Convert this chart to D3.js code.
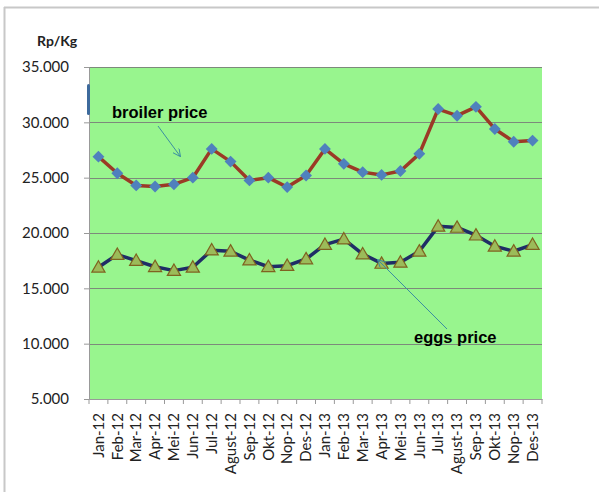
<!DOCTYPE html>
<html>
<head>
<meta charset="utf-8">
<script src="https://cdn.jsdelivr.net/npm/d3@7"></script>
<style>
  body { margin: 0; background: #fff; }
  svg { display: block; }
</style>
</head>
<body>
<script>
var months = ['Jan-12','Feb-12','Mar-12','Apr-12','Mei-12','Jun-12','Jul-12','Agust-12','Sep-12','Okt-12','Nop-12','Des-12',
              'Jan-13','Feb-13','Mar-13','Apr-13','Mei-13','Jun-13','Jul-13','Agust-13','Sep-13','Okt-13','Nop-13','Des-13'];
var broiler = [26900, 25400, 24300, 24200, 24400, 25000, 27600, 26450, 24750, 25000, 24150, 25200,
               27600, 26250, 25500, 25250, 25600, 27150, 31200, 30600, 31400, 29400, 28250, 28350];
var eggs = [16900, 18050, 17500, 16950, 16600, 16900, 18450, 18350, 17550, 16950, 17050, 17650,
            18950, 19450, 18100, 17250, 17350, 18350, 20600, 20500, 19800, 18800, 18350, 18950];
var yTicks = [5000, 10000, 15000, 20000, 25000, 30000, 35000];

var width = 599, height = 492;
var margin = {left: 89, top: 67, right: 57, bottom: 93};
var labelFont = 'Lato, "Open Sans", sans-serif';
var noteFont = '"Liberation Sans", Arial, sans-serif';

var svg = d3.select('body').append('svg')
  .attr('width', width)
  .attr('height', height);

// outer frame, only top and left show
svg.append('line').attr('x1', 4).attr('x2', width).attr('y1', 7.5).attr('y2', 7.5)
  .style('stroke', '#c8c8c8').style('stroke-width', 2);
svg.append('line').attr('x1', 4.5).attr('x2', 4.5).attr('y1', 7).attr('y2', height)
  .style('stroke', '#c8c8c8').style('stroke-width', 2);

var x = d3.scaleBand()
  .domain(months)
  .range([margin.left, width - margin.right]);

var y = d3.scaleLinear()
  .domain([5000, 35000])
  .range([height - margin.bottom, margin.top]);

// plot background
svg.append('rect')
  .attr('x', margin.left)
  .attr('y', margin.top)
  .attr('width', width - margin.left - margin.right)
  .attr('height', height - margin.top - margin.bottom)
  .style('fill', '#98f58e');

// gridlines
svg.append('g').selectAll('line')
  .data(yTicks.slice(1))
  .enter().append('line')
  .attr('x1', margin.left)
  .attr('x2', width - margin.right)
  .attr('y1', function(d){ return Math.round(y(d)) + 0.5; })
  .attr('y2', function(d){ return Math.round(y(d)) + 0.5; })
  .style('stroke', '#7d8a7b')
  .style('stroke-width', 1);

// y axis
var yAxis = svg.append('g')
  .attr('transform', 'translate(' + margin.left + ',0)')
  .call(d3.axisLeft(y).tickValues(yTicks).tickSize(5).tickPadding(15)
    .tickFormat(function(d){ return d3.format(',')(d).replace(/,/g, '.'); }));
yAxis.select('.domain').style('stroke', '#999');
yAxis.selectAll('.tick line').style('stroke', '#999');
yAxis.selectAll('text')
  .style('font-family', labelFont)
  .style('font-size', '15px')
  .style('fill', '#222');

// x axis
var xAxis = svg.append('g')
  .attr('transform', 'translate(0,' + (height - margin.bottom) + ')')
  .call(d3.axisBottom(x).tickSize(0));
xAxis.select('.domain').style('stroke', '#999');
xAxis.selectAll('text')
  .attr('transform', 'rotate(-90)')
  .attr('x', -14)
  .attr('y', 0)
  .attr('dy', '0.35em')
  .style('text-anchor', 'end')
  .style('font-family', labelFont)
  .style('font-size', '15px')
  .style('fill', '#222');

// ticks between categories
svg.append('g').selectAll('line')
  .data(d3.range(months.length + 1))
  .enter().append('line')
  .attr('x1', function(i){ return margin.left + i * x.step(); })
  .attr('x2', function(i){ return margin.left + i * x.step(); })
  .attr('y1', height - margin.bottom)
  .attr('y2', height - margin.bottom + 5)
  .style('stroke', '#999');

// small blue mark at left of plot
svg.append('rect')
  .attr('x', margin.left - 2).attr('y', 84)
  .attr('width', 3).attr('height', 31)
  .attr('rx', 1.5)
  .style('fill', '#3d6a9c');

var cx = function(d, i){ return x(months[i]) + x.bandwidth() / 2; };

// broiler
svg.append('path')
  .datum(broiler)
  .attr('d', d3.line().x(cx).y(function(d){ return y(d); }))
  .style('fill', 'none')
  .style('stroke', '#9b3a26')
  .style('stroke-width', 3.5)
  .style('stroke-linejoin', 'round');

svg.append('g').selectAll('path')
  .data(broiler)
  .enter().append('path')
  .attr('d', d3.symbol().type(d3.symbolDiamond2).size(90))
  .attr('transform', function(d, i){ return 'translate(' + cx(d, i) + ',' + y(d) + ')'; })
  .style('fill', '#4f81bd');

// eggs
svg.append('path')
  .datum(eggs)
  .attr('d', d3.line().x(cx).y(function(d){ return y(d); }))
  .style('fill', 'none')
  .style('stroke', '#1f2d66')
  .style('stroke-width', 3.5)
  .style('stroke-linejoin', 'round');

svg.append('g').selectAll('path')
  .data(eggs)
  .enter().append('path')
  .attr('d', d3.symbol().type(d3.symbolTriangle).size(75))
  .attr('transform', function(d, i){ return 'translate(' + cx(d, i) + ',' + (y(d) + 1) + ')'; })
  .style('fill', '#9bbb59')
  .style('stroke', '#7f6220')
  .style('stroke-width', 1.2);

// arrowhead
svg.append('defs').append('marker')
  .attr('id', 'arr')
  .attr('viewBox', '0 0 10 10')
  .attr('refX', 9).attr('refY', 5)
  .attr('markerWidth', 8).attr('markerHeight', 8)
  .attr('orient', 'auto')
  .append('path')
  .attr('d', 'M0,0 L10,5 L0,10')
  .style('fill', 'none')
  .style('stroke', '#3b8fa0')
  .style('stroke-width', 1.2);

// annotations
svg.append('text')
  .attr('x', 112).attr('y', 118)
  .text('broiler price')
  .style('font-family', noteFont)
  .style('font-weight', 'bold')
  .style('font-size', '16.5px')
  .style('fill', '#000');
svg.append('line')
  .attr('x1', 158).attr('y1', 126).attr('x2', 180).attr('y2', 156)
  .attr('marker-end', 'url(#arr)')
  .style('stroke', '#3b8fa0').style('stroke-width', 1);

svg.append('text')
  .attr('x', 414).attr('y', 343)
  .text('eggs price')
  .style('font-family', noteFont)
  .style('font-weight', 'bold')
  .style('font-size', '16.5px')
  .style('fill', '#000');
svg.append('line')
  .attr('x1', 447).attr('y1', 329).attr('x2', 378).attr('y2', 260)
  .attr('marker-end', 'url(#arr)')
  .style('stroke', '#3b8fa0').style('stroke-width', 1);

// unit label
svg.append('text')
  .attr('x', 37).attr('y', 46)
  .text('Rp/Kg')
  .style('font-family', labelFont)
  .style('font-weight', 'bold')
  .style('font-size', '14px')
  .style('fill', '#222');
</script>
</body>
</html>
